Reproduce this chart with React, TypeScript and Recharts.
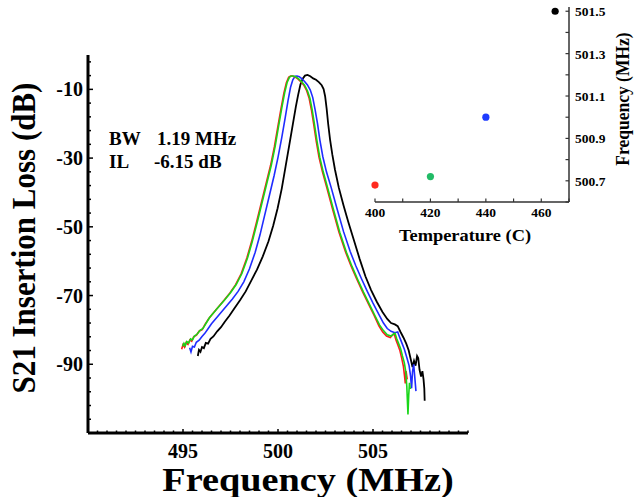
import React from "react";
import { LineChart, Line, XAxis, YAxis, ScatterChart, Scatter, Cell } from "recharts";

const SERIF = '"Liberation Serif", "Times New Roman", serif';

// S21 sweeps, [frequency MHz, insertion loss dB], one per temperature
const TRACE_465C: [number, number][] = [
  [495.78, -87.6], [495.84, -85.8], [495.92, -86.4], [496.0, -85.0], [496.1, -85.3], [496.2, -83.8],
  [496.32, -84.0], [496.45, -82.6], [496.6, -81.9], [496.8, -80.4], [497.0, -79.2], [497.2, -77.6],
  [497.45, -75.8], [497.7, -73.8], [498.0, -71.4], [498.3, -68.8], [498.6, -65.6], [498.9, -62.4],
  [499.2, -58.6], [499.5, -54.2], [499.75, -49.6], [499.98, -44.6], [500.2, -38.8], [500.4, -32.4],
  [500.6, -26.0], [500.78, -20.2], [500.94, -15.0], [501.06, -11.6], [501.18, -8.6], [501.3, -6.9],
  [501.42, -6.0], [501.55, -5.8], [501.7, -6.2], [501.85, -6.8], [502.0, -7.2], [502.15, -7.9],
  [502.3, -8.8], [502.4, -9.9], [502.48, -12.0], [502.56, -15.6], [502.64, -20.0], [502.74, -24.6],
  [502.86, -29.0], [503.0, -33.4], [503.2, -38.6], [503.45, -43.8], [503.7, -48.6], [504.0, -54.0],
  [504.3, -59.4], [504.6, -64.4], [504.9, -68.4], [505.2, -71.8], [505.5, -74.8], [505.75, -76.8],
  [505.95, -78.0], [506.15, -78.4], [506.3, -78.9], [506.45, -80.6], [506.6, -82.2], [506.75, -84.0],
  [506.88, -86.0], [506.98, -88.4], [507.08, -90.8], [507.16, -89.0], [507.24, -90.4], [507.32, -87.6],
  [507.38, -88.2], [507.45, -91.6], [507.53, -93.6], [507.6, -92.0], [507.66, -94.4], [507.7, -97.0],
  [507.72, -100.6],
];

const TRACE_440C: [number, number][] = [
  [495.35, -85.2], [495.42, -86.4], [495.5, -84.8], [495.6, -85.0], [495.7, -83.6], [495.85, -83.0],
  [496.0, -81.9], [496.15, -81.0], [496.3, -79.8], [496.5, -78.2], [496.9, -75.6], [497.3, -73.0],
  [497.6, -71.0], [497.9, -68.8], [498.2, -66.0], [498.5, -62.2], [498.8, -57.4], [499.05, -52.4],
  [499.3, -46.6], [499.55, -40.8], [499.8, -35.0], [500.0, -29.8], [500.2, -24.0], [500.38, -18.2],
  [500.53, -13.2], [500.66, -9.4], [500.78, -7.2], [500.9, -6.2], [501.0, -6.1], [501.12, -6.3],
  [501.25, -6.9], [501.4, -7.7], [501.55, -8.7], [501.7, -10.2], [501.83, -12.4], [501.95, -15.8],
  [502.08, -20.0], [502.2, -24.6], [502.36, -29.6], [502.55, -34.0], [502.8, -38.6], [503.1, -44.6],
  [503.45, -51.4], [503.8, -57.2], [504.1, -61.4], [504.4, -65.2], [504.7, -68.8], [505.0, -72.2],
  [505.3, -75.4], [505.55, -78.0], [505.75, -79.6], [505.95, -80.4], [506.15, -80.8], [506.3, -80.6],
  [506.42, -82.4], [506.55, -84.2], [506.65, -85.6], [506.78, -88.0], [506.9, -90.4], [506.98, -93.6],
  [507.03, -97.0], [507.08, -92.2], [507.14, -90.0], [507.2, -93.8], [507.26, -97.8],
];

const TRACE_400C: [number, number][] = [
  [494.93, -85.6], [495.0, -84.3], [495.08, -85.0], [495.16, -83.7], [495.26, -84.2], [495.36, -82.9],
  [495.46, -83.3], [495.56, -82.0], [495.71, -81.5], [495.86, -80.3], [496.01, -79.9], [496.16, -78.4],
  [496.36, -76.7], [496.76, -74.0], [497.16, -71.4], [497.46, -69.3], [497.76, -66.9], [498.06, -63.7],
  [498.36, -59.1], [498.61, -54.3], [498.86, -48.9], [499.11, -43.3], [499.36, -37.7], [499.61, -32.1],
  [499.81, -26.7], [499.99, -20.9], [500.16, -15.5], [500.31, -11.1], [500.44, -8.1], [500.56, -6.5],
  [500.66, -6.1], [500.76, -6.1], [500.91, -6.4], [501.06, -7.0], [501.21, -7.8], [501.36, -8.8],
  [501.51, -10.4], [501.64, -12.6], [501.76, -16.0], [501.88, -20.2], [502.01, -25.0], [502.16, -29.8],
  [502.34, -34.0], [502.56, -38.4], [502.86, -44.6], [503.21, -51.6], [503.56, -57.4], [503.86, -61.6],
  [504.16, -65.4], [504.46, -69.0], [504.76, -72.4], [505.06, -75.8], [505.31, -78.8], [505.51, -80.6],
  [505.71, -81.8], [505.91, -82.2], [506.04, -81.4], [506.12, -81.2], [506.21, -82.9], [506.31, -84.4],
  [506.41, -85.9], [506.51, -88.2], [506.6, -90.6], [506.66, -93.4], [506.7, -95.6], [506.74, -92.0],
  [506.8, -94.4],
];

const TRACE_420C: [number, number][] = [
  [494.98, -84.8], [495.05, -83.9], [495.12, -84.6], [495.2, -83.4], [495.3, -83.8], [495.4, -82.6],
  [495.5, -82.9], [495.6, -81.8], [495.75, -81.2], [495.9, -80.1], [496.05, -79.6], [496.2, -78.2],
  [496.4, -76.4], [496.8, -73.8], [497.2, -71.2], [497.5, -69.2], [497.8, -66.8], [498.1, -63.6],
  [498.4, -59.0], [498.65, -54.2], [498.9, -48.8], [499.15, -43.2], [499.4, -37.6], [499.65, -32.0],
  [499.85, -26.6], [500.03, -20.8], [500.2, -15.4], [500.35, -11.0], [500.48, -8.0], [500.6, -6.5],
  [500.7, -6.1], [500.8, -6.1], [500.95, -6.4], [501.1, -7.0], [501.25, -7.8], [501.4, -8.8],
  [501.55, -10.4], [501.68, -12.6], [501.8, -16.0], [501.92, -20.2], [502.05, -25.0], [502.2, -29.8],
  [502.38, -34.0], [502.6, -38.4], [502.9, -44.6], [503.25, -51.6], [503.6, -57.4], [503.9, -61.6],
  [504.2, -65.4], [504.5, -69.0], [504.8, -72.4], [505.1, -75.8], [505.35, -78.6], [505.55, -80.2],
  [505.75, -81.4], [505.95, -81.8], [506.08, -81.2], [506.16, -81.0], [506.25, -82.6], [506.35, -84.0],
  [506.45, -85.4], [506.55, -87.6], [506.65, -89.6], [506.72, -92.0], [506.78, -96.5], [506.84, -104.6],
  [506.88, -99.0], [506.92, -95.4], [506.96, -97.2],
];

// inset: resonance peak vs temperature
const TEMPS = [400, 420, 440, 465];
const PEAK_FREQ = [500.68, 500.72, 501.0, 501.5];
const PEAK_COLORS = ["#ff2a1f", "#22bb66", "#1f3cff", "#000000"];

const FREQ_TICKS = [495, 500, 505];
const LOSS_TICKS = [-10, -30, -50, -70, -90];
const TEMP_TICKS = [400, 420, 440, 460];
const PEAK_TICKS = [500.7, 500.9, 501.1, 501.3, 501.5];

const W = 635;
const H = 497;
const PLOT_L = 88;
const PLOT_B = 433;
const INSET_AXIS_X = 229;
const INSET_AXIS_Y = 202;

const freqMinor = Array.from({ length: 41 }, (_, i) => 490 + i * 0.5);
const lossMinor = Array.from({ length: 28 }, (_, i) => -110 + i * 4);
const tempMinor = Array.from({ length: 8 }, (_, i) => 400 + i * 10);
const peakMinor = Array.from({ length: 10 }, (_, i) => Math.round((500.6 + i * 0.1) * 10) / 10);

const sweeps = [
  { key: "t465", color: "#000000", width: 1.8, pts: TRACE_465C },
  { key: "t440", color: "#1f2cff", width: 1.6, pts: TRACE_440C },
  { key: "t400", color: "#ff1a1a", width: 1.6, pts: TRACE_400C },
  { key: "t420", color: "#19d619", width: 1.6, pts: TRACE_420C },
].map((s) => ({ ...s, data: s.pts.map(([f, db]) => ({ f, db })) }));

const peaks = TEMPS.map((t, i) => ({ t, f: PEAK_FREQ[i] }));

const bold = { fontFamily: SERIF, fontWeight: 700, fill: "#000" } as const;

function FreqTick({ x, payload }: any) {
  const major = FREQ_TICKS.includes(payload.value);
  return (
    <g>
      <line x1={x} x2={x} y1={PLOT_B} y2={PLOT_B - (major ? 4 : 2.5)} stroke="#000" strokeWidth={1.5} />
      {major && (
        <text x={x} y={458} textAnchor="middle" fontSize={20} {...bold}>{payload.value}</text>
      )}
    </g>
  );
}

function LossTick({ y, payload }: any) {
  const major = LOSS_TICKS.includes(payload.value);
  return (
    <g>
      <line x1={PLOT_L} x2={PLOT_L + (major ? 5 : 3)} y1={y} y2={y} stroke="#000" strokeWidth={1.5} />
      {major && (
        <text x={83} y={y + 7} textAnchor="end" fontSize={20} {...bold}>{payload.value}</text>
      )}
    </g>
  );
}

function TempTick({ x, payload }: any) {
  const major = TEMP_TICKS.includes(payload.value);
  return (
    <g>
      <line x1={x} x2={x} y1={INSET_AXIS_Y} y2={INSET_AXIS_Y - 3.5} stroke="#333" strokeWidth={1.2} />
      {major && (
        <text x={x} y={217} textAnchor="middle" fontSize={13.5} {...bold}>{payload.value}</text>
      )}
    </g>
  );
}

function PeakTick({ y, payload }: any) {
  const major = PEAK_TICKS.some((v) => Math.abs(v - payload.value) < 1e-6);
  return (
    <g>
      <line x1={INSET_AXIS_X} x2={INSET_AXIS_X - 3.5} y1={y} y2={y} stroke="#333" strokeWidth={1.2} />
      {major && (
        <text x={235} y={y + 5} textAnchor="start" fontSize={13.5} {...bold}>{payload.value.toFixed(1)}</text>
      )}
    </g>
  );
}

function Stretched({ x, y, sx = 1.1, rotate = 0, size, children }: any) {
  return (
    <text
      transform={`translate(${x},${y}) scale(${sx},1) rotate(${rotate})`}
      textAnchor="middle"
      fontSize={size}
      {...bold}
    >
      {children}
    </text>
  );
}

export default function App() {
  return (
    <div style={{ position: "absolute", left: 0, top: 0, width: W, height: H, background: "#fff" }}>
      <LineChart width={W} height={H} margin={{ top: 55, right: W - 468, left: 28, bottom: 20 }}>
        <XAxis
          dataKey="f"
          type="number"
          domain={[490, 510]}
          ticks={freqMinor}
          interval={0}
          allowDataOverflow
          height={44}
          axisLine={{ stroke: "#000", strokeWidth: 3 }}
          tickLine={false}
          tick={<FreqTick />}
        />
        <YAxis
          dataKey="db"
          type="number"
          domain={[-110, 0]}
          ticks={lossMinor}
          interval={0}
          allowDataOverflow
          width={60}
          axisLine={{ stroke: "#000", strokeWidth: 3 }}
          tickLine={false}
          tick={<LossTick />}
        />
        {sweeps.map((s) => (
          <Line
            key={s.key}
            data={s.data}
            dataKey="db"
            type="linear"
            stroke={s.color}
            strokeWidth={s.width}
            dot={false}
            isAnimationActive={false}
          />
        ))}
        <text x={109} y={145} fontSize={19} {...bold}>BW</text>
        <text x={157} y={145} fontSize={19} {...bold}>1.19 MHz</text>
        <text x={109} y={168} fontSize={19} {...bold}>IL</text>
        <text x={154} y={168} fontSize={19} {...bold}>-6.15 dB</text>
        <Stretched x={35} y={238} rotate={-90} size={31} sx={1.12}>S21 Insertion Loss (dB)</Stretched>
        <Stretched x={308} y={491} size={33} sx={1.16}>Frequency (MHz)</Stretched>
      </LineChart>

      <div style={{ position: "absolute", left: 340, top: 0 }}>
        <ScatterChart width={295} height={250} margin={{ top: 7, right: 6, left: 35, bottom: 8 }}>
          <XAxis
            dataKey="t"
            type="number"
            domain={[400, 470]}
            ticks={tempMinor}
            interval={0}
            height={40}
            axisLine={{ stroke: "#333", strokeWidth: 1.5 }}
            tickLine={false}
            tick={<TempTick />}
          />
          <YAxis
            dataKey="f"
            type="number"
            orientation="right"
            domain={[500.6, 501.52]}
            ticks={peakMinor}
            interval={0}
            width={60}
            axisLine={{ stroke: "#333", strokeWidth: 1.5 }}
            tickLine={false}
            tick={<PeakTick />}
          />
          <Scatter
            data={peaks}
            isAnimationActive={false}
            shape={(p: any) => <circle cx={p.cx} cy={p.cy} r={3.6} fill={p.fill} />}
          >
            {peaks.map((d, i) => (
              <Cell key={d.t} fill={PEAK_COLORS[i]} />
            ))}
          </Scatter>
          <Stretched x={125} y={241} size={17.5} sx={1.05}>Temperature (C)</Stretched>
          <Stretched x={289} y={99} rotate={-90} size={17.5} sx={1.05}>Frequency (MHz)</Stretched>
        </ScatterChart>
      </div>
    </div>
  );
}
